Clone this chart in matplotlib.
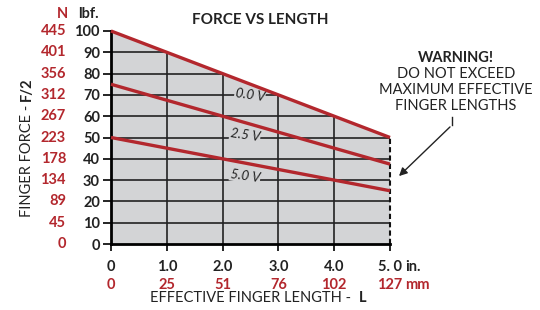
import matplotlib
matplotlib.use("Agg")
import matplotlib.pyplot as plt
import matplotlib.transforms as mtransforms
from matplotlib.patches import Polygon, FancyArrowPatch
from matplotlib.lines import Line2D

plt.rcParams['font.family'] = ['Lato', 'DejaVu Sans']

# ---- data ----
length_in = [0, 1, 2, 3, 4, 5]
force_0v = [100, 90, 80, 70, 60, 50]
force_2_5v = [75, 67.5, 60, 52.5, 45, 37.5]
force_5v = [50, 45, 40, 35, 30, 25]
series_labels = ["0.0 V", "2.5 V", "5.0 V"]
lbf_ticks = [0, 10, 20, 30, 40, 50, 60, 70, 80, 90, 100]
newton_labels = ["0", "45", "89", "134", "178", "223", "267", "312", "356", "401", "445"]
in_ticks = [0, 1, 2, 3, 4, 5]
in_labels = ["0", "1.0", "2.0", "3.0", "4.0", "5. 0"]
mm_labels = ["0", "25", "51", "76", "102", "127"]

RED = "#b3272d"
GRAY = "#d3d4d6"
DARK = "#222222"
FS = 10.5

W, H = 540, 310
fig = plt.figure(figsize=(W / 100, H / 100), dpi=100)
ax = fig.add_axes([111 / W, 1 - 244 / H, 279 / W, 213 / H])
ax.set_xlim(0, 5)
ax.set_ylim(0, 100)

# gray fill under the 0.0 V curve
poly_pts = [(0, 0)] + list(zip(length_in, force_0v)) + [(5, 0)]
poly = Polygon(poly_pts, closed=True, facecolor=GRAY, edgecolor="none", zorder=0)
ax.add_patch(poly)

# grid clipped to the fill
for yv in lbf_ticks[1:-1]:
    ln, = ax.plot([0, 5], [yv, yv], color=DARK, lw=1.2, zorder=1)
    ln.set_clip_path(poly)
for xv in in_ticks[1:-1]:
    ln, = ax.plot([xv, xv], [0, 100], color=DARK, lw=1.2, zorder=1)
    ln.set_clip_path(poly)

# right dashed edge
ax.plot([5, 5], [0, force_0v[-1]], color="#111111", lw=1.5, ls=(0, (2.5, 1.5)),
        zorder=2, clip_on=False)

for ys in (force_0v, force_2_5v, force_5v):
    ax.plot(length_in, ys, color=RED, lw=2.4, zorder=3, clip_on=False,
            solid_capstyle="butt")

# inline labels (masking the grid line they sit on)
lab_pos = [(2.49, 70), (2.40, 51), (2.40, 32)]
for (lx, ly), lab in zip(lab_pos, series_labels):
    ax.text(lx, ly, lab, fontsize=9.5, rotation=-8, style="italic",
            ha="center", va="center", color=DARK, zorder=2.5,
            bbox=dict(boxstyle="square,pad=0.05", fc=GRAY, ec="none"))

# spines
for s in ("top", "right"):
    ax.spines[s].set_visible(False)
ax.spines["left"].set_linewidth(2)
ax.spines["bottom"].set_linewidth(2)

ax.set_yticks(lbf_ticks)
ax.set_yticklabels([str(v) for v in lbf_ticks], fontsize=FS, fontweight="bold",
                   color=DARK)
ax.set_xticks(in_ticks)
ax.set_xticklabels(in_labels, fontsize=FS, fontweight="bold", color=DARK)
ax.tick_params(axis="y", length=6, width=1.2, pad=2)
ax.tick_params(axis="x", length=5, width=1.2, pad=6.5)

# Newton column
ty = mtransforms.blended_transform_factory(fig.transFigure, ax.transData)
for v, lab in zip(lbf_ticks, newton_labels):
    fig.text(66 / W, v, lab, transform=ty, ha="right", va="center",
             fontsize=FS, fontweight="bold", color=RED)

# mm row
tx = mtransforms.blended_transform_factory(ax.transData, fig.transFigure)
for v, lab in zip(in_ticks, mm_labels):
    fig.text(v, 1 - 285 / H, lab, transform=tx, ha="center", va="center",
             fontsize=FS, fontweight="bold", color=RED)
fig.text(405 / W, 1 - 267 / H, "in.", ha="left", va="center", fontsize=FS,
         fontweight="bold", color=DARK)
fig.text(405 / W, 1 - 285 / H, "mm", ha="left", va="center", fontsize=FS,
         fontweight="bold", color=RED)

# column headers
fig.text(62 / W, 1 - 14 / H, "N", ha="center", va="center", fontsize=FS,
         fontweight="bold", color=RED)
fig.text(88 / W, 1 - 14 / H, "lbf.", ha="center", va="center", fontsize=FS,
         fontweight="bold", color=DARK)

# title
fig.text(260 / W, 1 - 20 / H, "FORCE VS LENGTH", ha="center", va="center",
         fontsize=11, fontweight="bold", color=DARK)

# axis labels
fig.text(351 / W, 1 - 298 / H, "EFFECTIVE FINGER LENGTH -", ha="right",
         va="center", fontsize=10.5, color=DARK)
fig.text(359 / W, 1 - 298 / H, "L", ha="left", va="center", fontsize=10.5,
         fontweight="bold", color=DARK)
fig.text(27 / W, 1 - 217 / H, "FINGER FORCE -", ha="center", va="bottom",
         rotation=90, fontsize=10.5, color=DARK)
fig.text(27 / W, 1 - 101 / H, "F/2", ha="center", va="bottom", rotation=90,
         fontsize=10.5, fontweight="bold", color=DARK)

# warning
fig.text(456 / W, 1 - 58 / H, "WARNING!", ha="center", va="center",
         fontsize=10.5, fontweight="bold", color=DARK)
for i, line in enumerate(["DO NOT EXCEED", "MAXIMUM EFFECTIVE",
                          "FINGER LENGTHS"]):
    fig.text(456 / W, 1 - (74.5 + 15.5 * i) / H, line, ha="center", va="center",
             fontsize=10.5, color=DARK)
fig.add_artist(Line2D([452 / W, 452 / W], [1 - 117 / H, 1 - 125 / H],
                      transform=fig.transFigure, color=DARK, lw=1))
fig.add_artist(FancyArrowPatch(
    (452 / W, 1 - 125 / H), (397 / W, 1 - 178 / H), transform=fig.transFigure,
    arrowstyle="-|>", mutation_scale=12, color=DARK, lw=1))

fig.savefig("out.png", dpi=100)
